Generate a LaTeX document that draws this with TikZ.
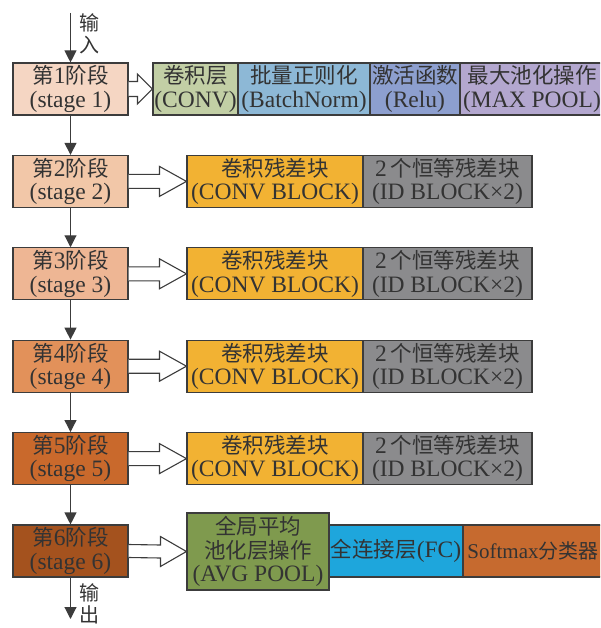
\documentclass[tikz,border=0pt]{standalone}
\usepackage{fontspec}
\setmainfont{Liberation Serif}
\newfontfamily\cjk{Noto Sans CJK SC}
\usetikzlibrary{arrows.meta,calc}
\definecolor{linec}{HTML}{3C3C3C}
\definecolor{txt}{HTML}{333333}
\definecolor{sa}{HTML}{F5D6C3}
\definecolor{sb}{HTML}{F2C7A8}
\definecolor{sc}{HTML}{EEB694}
\definecolor{sd}{HTML}{E2915A}
\definecolor{se}{HTML}{C9692C}
\definecolor{sf}{HTML}{A4521E}
\definecolor{convc}{HTML}{C2CFA5}
\definecolor{bnc}{HTML}{8DB8D6}
\definecolor{reluc}{HTML}{8D9FCF}
\definecolor{mpc}{HTML}{B3A7CF}
\definecolor{orc}{HTML}{F2B233}
\definecolor{grc}{HTML}{8B8B8D}
\definecolor{avgc}{HTML}{7F9A4E}
\definecolor{fcc}{HTML}{1EA6DC}
\definecolor{smc}{HTML}{C66A2F}
\newcommand\fsz{\fontsize{23.5}{23.5}\selectfont}
\newcommand\zh[1]{{\cjk\fontsize{21.5}{23.5}\selectfont #1}}
\newcommand\harrow[5]{%
  \draw[hollow] ($(#1.east)+(0,#3)$) -- ($(#2.west)+(-#5,#3)$) -- ($(#2.west)+(-#5,#4)$) -- (#2.west)
   -- ($(#2.west)+(-#5,-#4)$) -- ($(#2.west)+(-#5,-#3)$) -- ($(#1.east)+(0,-#3)$);}
\tikzset{
  box/.style={draw=linec, line width=1.1pt, inner sep=0pt, align=center, font=\fsz, text=txt},
  stagebox/.style={box, minimum width=115pt, minimum height=52pt},
  rowbox/.style={box, minimum height=52pt},
  varrow/.style={draw=linec, line width=1.1pt, -{Triangle[width=12pt,length=12pt]}},
  hollow/.style={draw=linec, line width=1.1pt, fill=white, line join=miter},
  lbl/.style={inner sep=0pt, align=center, text=txt, font=\cjk\fontsize{20}{22}\selectfont}
}
\begin{document}
\begin{tikzpicture}[x=1pt,y=-1pt]
\useasboundingbox (0,0) rectangle (600,628);
\clip (0,0) rectangle (600,628);
% stage boxes
\node[stagebox, fill=sa] (s1) at (70.5,89) {\zh{第}1\zh{阶段}\\(stage 1)};
\node[stagebox, fill=sb] (s2) at (70.5,181.4) {\zh{第}2\zh{阶段}\\(stage 2)};
\node[stagebox, fill=sc] (s3) at (70.5,273.8) {\zh{第}3\zh{阶段}\\(stage 3)};
\node[stagebox, fill=sd] (s4) at (70.5,366.2) {\zh{第}4\zh{阶段}\\(stage 4)};
\node[stagebox, fill=se] (s5) at (70.5,458.6) {\zh{第}5\zh{阶段}\\(stage 5)};
\node[stagebox, fill=sf] (s6) at (70.5,551) {\zh{第}6\zh{阶段}\\(stage 6)};
% row 1
\node[rowbox, fill=convc, minimum width=85pt] (conv) at (195.5,89) {\zh{卷积层}\\(CONV)};
\node[rowbox, fill=bnc, minimum width=132pt] (bn) at (304,89) {\zh{批量正则化}\\(BatchNorm)};
\node[rowbox, fill=reluc, minimum width=90pt] (relu) at (415,89) {\zh{激活函数}\\(Relu)};
\node[rowbox, fill=mpc, minimum width=144pt] (mp) at (532,89) {\zh{最大池化操作}\\(MAX POOL)};
% rows 2-5
\foreach \i/\y in {2/181.4,3/273.8,4/366.2,5/458.6}{
  \node[rowbox, fill=orc, minimum width=176pt] (cb\i) at (275,\y) {\zh{卷积残差块}\\(CONV BLOCK)};
  \node[rowbox, fill=grc, minimum width=169pt] (id\i) at (447.5,\y) {2\,\zh{个恒等残差块}\\(ID BLOCK×2)};
}
% row 6
\node[box, fill=avgc, minimum width=142pt, minimum height=77pt] (avg) at (258,551.5) {\zh{全局平均}\\\zh{池化层操作}\\(AVG POOL)};
\node[rowbox, fill=fcc, minimum width=134pt] (fc) at (396,551) {\zh{全连接层}(FC)};
\node[rowbox, fill=smc, minimum width=140pt, font=\fontsize{21}{23}\selectfont] (sm) at (533,551) {Softmax{\cjk\fontsize{20}{23}\selectfont 分类器}};
% vertical arrows
\coordinate (in) at (70.5,13);
\coordinate (out) at (70.5,619);
\draw[varrow] (in) -- (s1.north);
\draw[varrow] (s1.south) -- (s2.north);
\draw[varrow] (s2.south) -- (s3.north);
\draw[varrow] (s3.south) -- (s4.north);
\draw[varrow] (s4.south) -- (s5.north);
\draw[varrow] (s5.south) -- (s6.north);
\draw[varrow] (s6.south) -- (out);
\node[lbl] (inl) at (89,34) {输\\入};
\node[lbl] (outl) at (89,604) {输\\出};
% hollow arrows
\harrow{s1}{conv}{7.5}{15}{15}
\harrow{s2}{cb2}{7}{15}{27}
\harrow{s3}{cb3}{7}{15}{27}
\harrow{s4}{cb4}{7}{15}{27}
\harrow{s5}{cb5}{7}{15}{27}
\harrow{s6}{avg}{6.5}{15}{26}
\end{tikzpicture}
\end{document}
